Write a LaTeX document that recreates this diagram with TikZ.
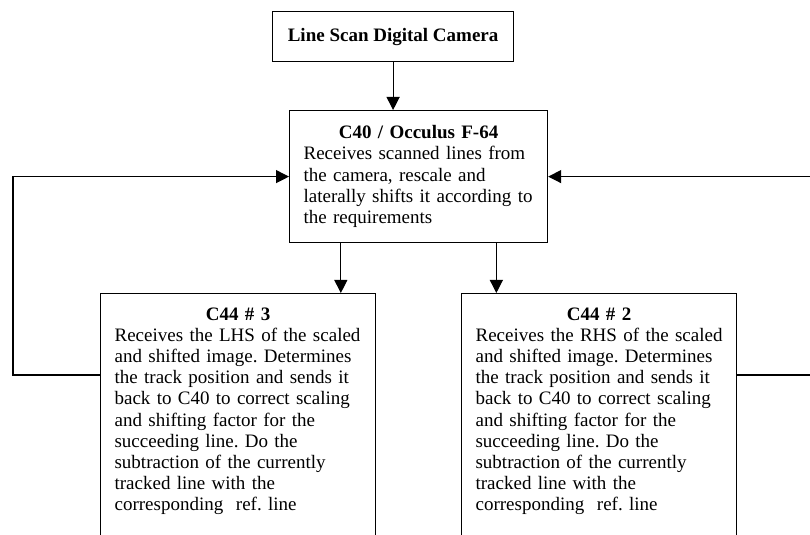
\documentclass[tikz,border=0pt]{standalone}
\usepackage{fontspec}
\setmainfont{Liberation Serif}
\frenchspacing
\usetikzlibrary{calc, positioning, arrows.meta}
\tikzset{
	>={Triangle[length=6.5pt, width=6.5pt]},
	headbox/.style={
		rectangle,
		draw=black,
		line width=0.6pt,
		minimum width=120.5pt,
		minimum height=25pt,
		font=\fontsize{9.5}{10.6}\selectfont\bfseries,
		anchor=north west},
	procbox/.style={
		rectangle,
		draw=black,
		line width=0.6pt,
		inner xsep=7pt,
		inner ysep=7pt,
		align=left,
		font=\fontsize{9.5}{10.6}\selectfont,
		anchor=north west},
	line/.style={draw, line width=0.6pt, ->},
}
\newcommand{\boxtitle}[1]{\makebox[\hsize]{\textbf{#1}}}

\begin{document}
\begin{tikzpicture}[x=0.5pt, y=-0.5pt]
	\useasboundingbox (0,0) rectangle (810,535);
	\clip (0,0) rectangle (810,535);

	\node [headbox] (cam) at (272,11) {Line Scan Digital Camera};
	\node [procbox, text width=115pt, minimum height=66pt] (c40) at (289,110)
		{\boxtitle{C40 / Occulus F-64}\\ Receives scanned lines from\\ the camera, rescale and\\
		laterally shifts it according to\\ the requirements};
	\node [procbox, text width=123.5pt] (lhs) at (100,293)
		{\boxtitle{C44 \# 3}\\ Receives the LHS of the scaled\\ and shifted image. Determines\\
		the track position and sends it\\ back to C40 to correct scaling\\ and shifting factor for the\\
		succeeding line. Do the\\ subtraction of the currently\\ tracked line with the\\
		corresponding\ \ ref. line\\ \rule{0pt}{30pt}};
	\node [procbox, text width=123.5pt] (rhs) at (461,293)
		{\boxtitle{C44 \# 2}\\ Receives the RHS of the scaled\\ and shifted image. Determines\\
		the track position and sends it\\ back to C40 to correct scaling\\ and shifting factor for the\\
		succeeding line. Do the\\ subtraction of the currently\\ tracked line with the\\
		corresponding\ \ ref. line\\ \rule{0pt}{30pt}};

	\draw [line] (cam.south) -- (cam.south |- c40.north);
	\coordinate (out3) at ($(c40.south west)!0.2!(c40.south east)$);
	\coordinate (out2) at ($(c40.south west)!0.8!(c40.south east)$);
	\draw [line] (out3) -- (out3 |- lhs.north);
	\draw [line] (out2) -- (out2 |- rhs.north);

	% track position sent back to C40
	\coordinate (back3) at ($(lhs.north west)+(0,82)$);
	\coordinate (back2) at ($(rhs.north east)+(0,82)$);
	\draw [line] (back3) -- ++(-87,0) |- (c40.west);
	\draw [line] (back2) -- ++(150,0) |- (c40.east);
\end{tikzpicture}
\end{document}
